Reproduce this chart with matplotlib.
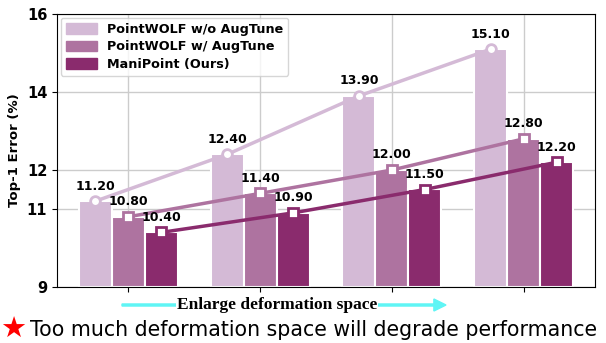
import numpy as np
import matplotlib
matplotlib.use('Agg')
from matplotlib import pyplot as plt
from matplotlib.patches import Patch

groups = ['1', '2', '3', '4']
names = ['PointWOLF w/o AugTune', 'PointWOLF w/ AugTune', 'ManiPoint (Ours)']
wo_aug = [11.2, 12.4, 13.9, 15.1]
w_aug = [10.8, 11.4, 12.0, 12.8]
ours = [10.4, 10.9, 11.5, 12.2]
yticks = [9, 11, 12, 14, 16]

colors = ['#D4BAD6', '#AE73A0', '#8A2B6D']
markers = ['o', 's', 's']
series = [wo_aug, w_aug, ours]

fig = plt.figure(figsize=(6.06, 3.43), dpi=100)
ax = fig.add_axes([57/606, 1-287/343, (595-57)/606, (287-14)/343])

x = np.arange(len(groups))
w = 0.25
for i, vals in enumerate(series):
    xs = x + (i-1)*w
    ax.bar(xs, np.array(vals) - 9, bottom=9, width=w, color=colors[i],
           edgecolor='white', linewidth=1.5, zorder=2)
    ax.plot(xs, vals, color=colors[i], lw=2.5, marker=markers[i], ms=7,
            mfc='white', mec=colors[i], mew=2, zorder=3)
    for xi, v in zip(xs, vals):
        ax.text(xi, v + 0.22, '%.2f' % v, ha='center', va='bottom',
                fontsize=9, fontweight='bold', zorder=4)

ax.set_ylim(9, 16)
ax.set_xlim(-0.54, 3.54)
ax.set_yticks(yticks)
ax.set_yticklabels([str(t) for t in yticks], fontsize=10.5, fontweight='bold')
ax.set_xticks(x)
ax.set_xticklabels([])
ax.grid(True, color='#cccccc', lw=1, zorder=0)
ax.set_axisbelow(True)
ax.set_ylabel('Top-1 Error (%)', fontsize=9.5, fontweight='bold')

handles = [Patch(color=c) for c in colors]
ax.legend(handles, names, loc='upper left', prop={'weight': 'bold', 'size': 9.2},
          handlelength=2.4, handleheight=0.9, borderaxespad=0.3, labelspacing=0.35)

# arrow + caption under the axis
fig.patches.append(matplotlib.patches.FancyArrow(
    122/606, 1-305/343, (446-122)/606, 0, width=0.006, head_width=0.035,
    head_length=0.02, color='#5FF5F5', transform=fig.transFigure, length_includes_head=True))
fig.text(277/606, 1-305/343, 'Enlarge deformation space', ha='center', va='center',
         family='Liberation Serif', fontweight='bold', fontsize=12.5,
         bbox=dict(facecolor='white', edgecolor='none', pad=0.5))
fig.text(13/606, 1-330/343, '\u2605', color='red', ha='center', va='center',
         fontsize=21, family='DejaVu Sans')
fig.text(30/606, 1-330/343, 'Too much deformation space will degrade performance',
         ha='left', va='center', fontsize=14.8)

plt.savefig('out.png', dpi=100)
